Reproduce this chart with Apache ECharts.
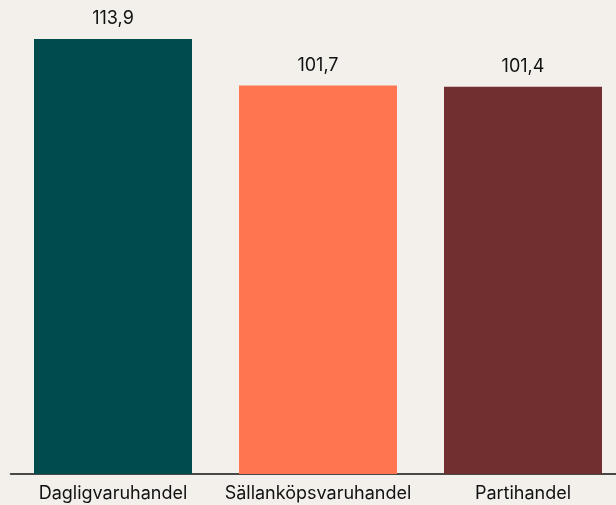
<!DOCTYPE html>
<html>
<head>
<meta charset="utf-8">
<script src="https://cdn.jsdelivr.net/npm/echarts@6/dist/echarts.min.js"></script>
<style>
  html, body { margin: 0; padding: 0; background: #f3f0ec; }
  #main { width: 616px; height: 505px; }
</style>
</head>
<body>
<div id="main"></div>
<script>
// kategorier och värden
var categories = ['Dagligvaruhandel', 'Sällanköpsvaruhandel', 'Partihandel'];
var values = [113.9, 101.7, 101.4];
var barColors = ['#004b4b', '#ff7550', '#722f30'];

var myChart = echarts.init(document.getElementById('main'));

var option = {
    backgroundColor: '#f3f0ec',
    animation: false,
    grid: {
        left: 10.5,
        width: 615,
        top: 0,
        bottom: 31,
        outerBoundsMode: 'none',
        containLabel: false
    },
    xAxis: {
        type: 'category',
        data: categories,
        axisTick: { show: false },
        axisLine: { lineStyle: { color: '#111', width: 1.5 } },
        axisLabel: {
            interval: 0,
            color: '#111',
            fontFamily: 'Inter',
            fontSize: 18,
            margin: 11
        }
    },
    yAxis: {
        type: 'value',
        min: 0,
        max: 124.1,
        show: false,
        splitLine: { show: false }
    },
    series: [
        {
            type: 'bar',
            barWidth: 158,
            data: values.map(function (v, i) {
                return { value: v, itemStyle: { color: barColors[i] } };
            }),
            label: {
                show: true,
                position: 'top',
                distance: 11,
                color: '#111',
                fontFamily: 'Inter',
                fontSize: 18,
                formatter: function (p) {
                    return p.value.toFixed(1).replace('.', ',');
                }
            }
        }
    ]
};

myChart.setOption(option);
</script>
</body>
</html>
